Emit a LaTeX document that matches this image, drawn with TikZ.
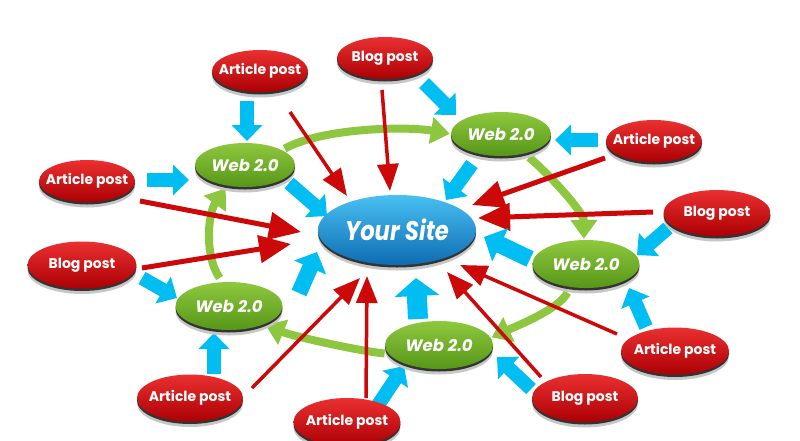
\documentclass[tikz,border=0pt]{standalone}
\usepackage{fontspec}
\usepackage{graphicx}
\setmainfont{Poppins}
\usetikzlibrary{shapes.geometric,arrows.meta,shadows}
\pgfdeclarelayer{bg}
\pgfsetlayers{bg,main}
\definecolor{cy}{RGB}{0,190,242}
\definecolor{rd}{RGB}{204,8,8}
\definecolor{gn}{RGB}{141,198,63}
\definecolor{redtop}{RGB}{234,48,48}
\definecolor{redbot}{RGB}{172,0,4}
\definecolor{gntop}{RGB}{142,200,62}
\definecolor{gnbot}{RGB}{86,150,24}
\definecolor{bltop}{RGB}{72,192,242}
\definecolor{blbot}{RGB}{14,108,178}
\newcommand\zb[1]{\makebox[0pt]{#1}}
\begin{document}
\begin{tikzpicture}[x=1pt,y=-1pt,
  ball/.style={ellipse, inner sep=0pt, text=white,
    drop shadow={shadow xshift=0pt,shadow yshift=-5.5pt,opacity=1,fill=black!22},
    drop shadow={shadow xshift=0pt,shadow yshift=-2.5pt,opacity=1,fill=black!80}},
  redball/.style={ball, minimum width=96pt, minimum height=42pt,
    top color=redtop, bottom color=redbot,
    font=\bfseries\fontsize{14}{16}\selectfont},
  greenball/.style={ball, minimum width=100pt, minimum height=44pt,
    top color=gntop, bottom color=gnbot,
    font=\bfseries\itshape\fontsize{16.5}{18}\selectfont},
  siteball/.style={ball, minimum width=158pt, minimum height=70pt,
    top color=bltop, bottom color=blbot,
    font=\bfseries\itshape\fontsize{27}{29}\selectfont},
  cyarrow/.style={cy, line width=14pt, -{Triangle[length=16pt,width=30pt]}},
  bigcy/.style={cy, line width=20pt, -{Triangle[length=18pt,width=44pt]}},
  rdarrow/.style={rd, line width=3.5pt, -{Triangle[length=27pt,width=21pt]}},
  rdbig/.style={rd, line width=5pt, -{Triangle[length=32pt,width=27pt]}},
  gnarc/.style={gn, line width=8pt, -{Triangle[length=19pt,width=26pt]}},
]
\useasboundingbox (0,0) rectangle (800,440);

% green nodes
\node[greenball] (webA) at (245,165) {\zb{Web 2.0}};
\node[greenball] (webB) at (501,134) {\zb{Web 2.0}};
\node[greenball, minimum width=107pt, minimum height=48pt] (webC) at (586,264) {\zb{Web 2.0}};
\node[greenball, minimum width=108pt, minimum height=48pt] (webD) at (439,345) {\zb{Web 2.0}};
\node[greenball, minimum width=107pt, minimum height=48pt] (webE) at (229,306) {\zb{Web 2.0}};

% red nodes
\node[redball] (art1) at (260,71) {\zb{Article post}};
\node[redball] (blog2) at (385,58) {\zb{Blog post}};
\node[redball] (art3) at (654,141) {\zb{Article post}};
\node[redball, minimum width=107pt, minimum height=46pt] (blog4) at (717,213) {\zb{Blog post}};
\node[redball, minimum width=108pt, minimum height=47pt] (art5) at (675,351) {\zb{Article post}};
\node[redball, minimum width=106pt, minimum height=48pt] (blog6) at (585,398) {\zb{Blog post}};
\node[redball, minimum width=107pt, minimum height=48pt] (art7) at (347,422) {\zb{Article post}};
\node[redball, minimum width=106pt, minimum height=47pt] (art8) at (190,398) {\zb{Article post}};
\node[redball, minimum width=109pt, minimum height=47pt] (blog9) at (82,265) {\zb{Blog post}};
\node[redball] (art10) at (87,181) {\zb{Article post}};

% central node
\node[siteball] (site) at (397,230) {\zb{\scalebox{0.84}[1]{Your Site}}};

% coordinates for free arrow ends
\coordinate (c1a) at (247,101);  \coordinate (c1b) at (247,141);
\coordinate (c2a) at (424,83);   \coordinate (c2b) at (456,115);
\coordinate (c3a) at (598,140);  \coordinate (c3b) at (555,140);
\coordinate (c4a) at (668,228);  \coordinate (c4b) at (637,255);
\coordinate (c5a) at (646,327);  \coordinate (c5b) at (629,288);
\coordinate (c6a) at (531,389);  \coordinate (c6b) at (497,357);
\coordinate (c7a) at (378,405);  \coordinate (c7b) at (404,366);
\coordinate (c8a) at (214,374);  \coordinate (c8b) at (214,333);
\coordinate (c9a) at (142,278);  \coordinate (c9b) at (177,298);
\coordinate (c10a) at (147,180); \coordinate (c10b) at (189,180);
\coordinate (s1a) at (289,183);  \coordinate (s1b) at (327,216);
\coordinate (s2a) at (472,164);  \coordinate (s2b) at (446,200);
\coordinate (s3a) at (530,259);  \coordinate (s3b) at (484,237);
\coordinate (s4a) at (418,319);  \coordinate (s4b) at (416,278);
\coordinate (s5a) at (299,293);  \coordinate (s5b) at (317,252);
\coordinate (r1a) at (290,112);  \coordinate (r1b) at (347,196);
\coordinate (r2a) at (382,90);   \coordinate (r2b) at (390,191);
\coordinate (r3a) at (605,158);  \coordinate (r3b) at (472,205);
\coordinate (r4a) at (653,212);  \coordinate (r4b) at (478,218);
\coordinate (r5a) at (617,334);  \coordinate (r5b) at (460,265);
\coordinate (r6a) at (541,377);  \coordinate (r6b) at (447,272);
\coordinate (r7a) at (366,398);  \coordinate (r7b) at (367,276);
\coordinate (r8a) at (252,388);  \coordinate (r8b) at (360,278);
\coordinate (r9a) at (142,268);  \coordinate (r9b) at (291,244);
\coordinate (r10a) at (140,201); \coordinate (r10b) at (301,232);

\begin{pgfonlayer}{bg}
% green arcs
\draw[gnarc, shorten <=3pt, shorten >=1pt] (webA.22) .. controls +(40,-22) and +(-45,-8) .. (webB.180);
\draw[gnarc, shorten <=6pt, shorten >=1pt] (webB.-40) .. controls +(22,18) and +(0,-28) .. (webC.95);
\draw[gnarc, shorten <=6pt, shorten >=1pt] (webC.-125) .. controls +(-10,22) and +(22,-10) .. (webD.8);
\draw[gnarc, shorten <=4pt, shorten >=2pt] (webD.190) .. controls +(-30,-3) and +(30,12) .. (webE.-28);
\draw[gnarc, shorten <=5pt, shorten >=3pt] (webE.105) .. controls +(-18,-25) and +(-20,28) .. (webA.-130);

% red arrows
\draw[rdarrow] (r1a) -- (r1b);
\draw[rdarrow] (r2a) -- (r2b);
\draw[rdbig] (r3a) -- (r3b);
\draw[rdbig] (r4a) -- (r4b);
\draw[rdarrow] (r5a) -- (r5b);
\draw[rdarrow] (r6a) -- (r6b);
\draw[rdarrow] (r7a) -- (r7b);
\draw[rdarrow] (r8a) -- (r8b);
\draw[rdbig] (r9a) -- (r9b);
\draw[rdbig] (r10a) -- (r10b);

% cyan arrows
\foreach \i in {1,...,10} {\draw[cyarrow] (c\i a) -- (c\i b);}
\draw[cyarrow] (s1a) -- (s1b);
\draw[cyarrow] (s2a) -- (s2b);
\draw[bigcy, line width=17pt, -{Triangle[length=18pt,width=36pt]}] (s3a) -- (s3b);
\draw[bigcy] (s4a) -- (s4b);
\draw[cyarrow, line width=16pt, -{Triangle[length=17pt,width=34pt]}] (s5a) -- (s5b);
\end{pgfonlayer}
\end{tikzpicture}
\end{document}
